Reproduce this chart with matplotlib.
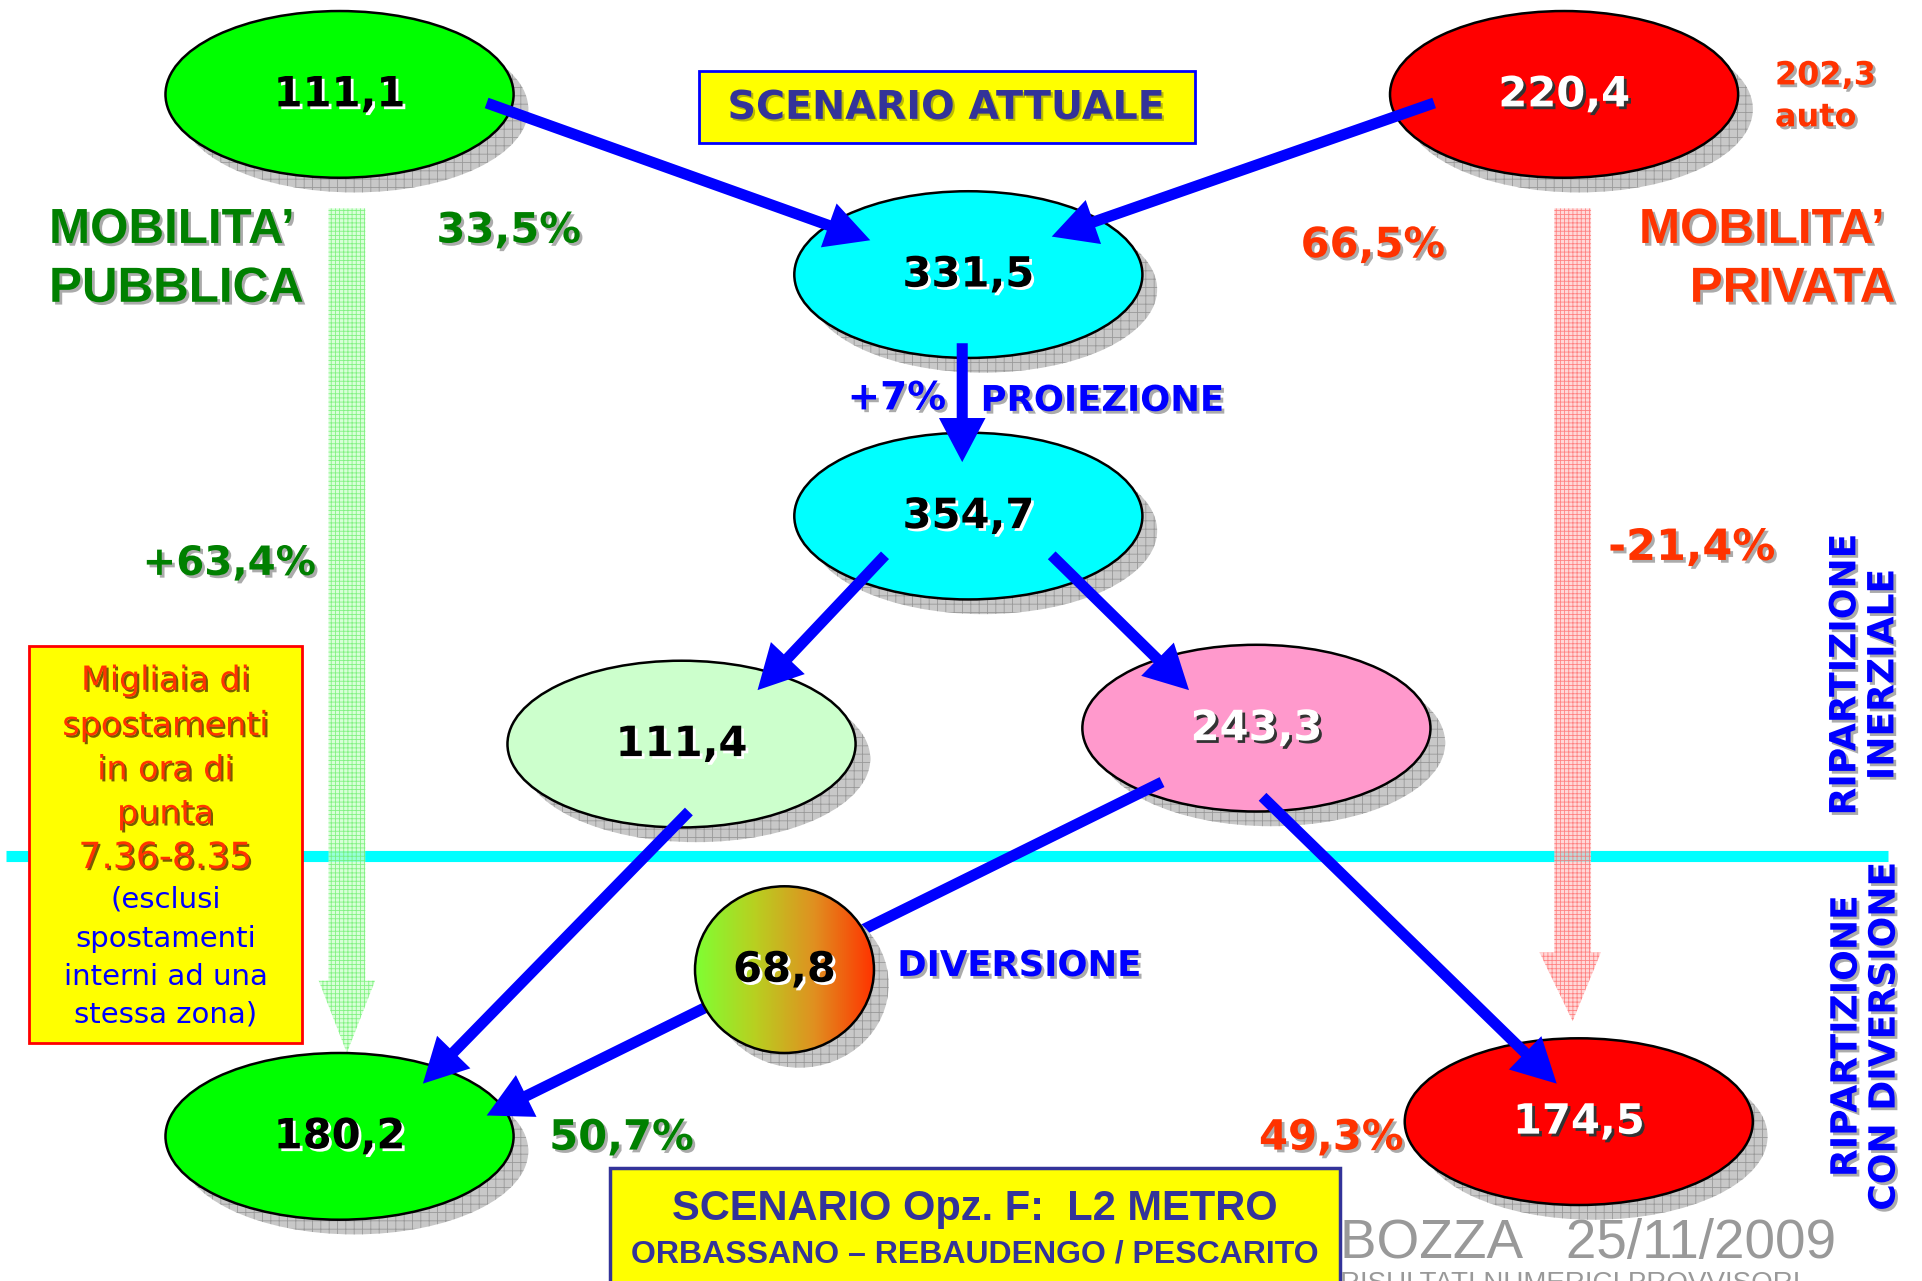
import numpy as np
import matplotlib
matplotlib.use("Agg")
import matplotlib.pyplot as plt
from matplotlib.patches import Ellipse, Rectangle, FancyArrow, Polygon
from matplotlib.colors import LinearSegmentedColormap
import matplotlib.patheffects as pe

# ---------------- data ----------------
node_values = ["111,1", "220,4", "331,5", "354,7", "111,4", "243,3", "68,8", "180,2", "174,5"]
share_current = ["33,5%", "66,5%"]
share_future = ["50,7%", "49,3%"]
variations = ["+63,4%", "-21,4%"]
growth = "+7%"
auto_value = "202,3\nauto"
titles = ["SCENARIO ATTUALE", "SCENARIO Opz. F:  L2 METRO", "ORBASSANO \u2013 REBAUDENGO / PESCARITO"]
legend_red = ["Migliaia di", "spostamenti", "in ora di", "punta", "7.36-8.35"]
legend_blue = ["(esclusi", "spostamenti", "interni ad una", "stessa zona)"]

BLUE = "#0000FF"
GREEN_T = "#008000"
RED_T = "#FF3300"
NAVY = "#333399"

fig = plt.figure(figsize=(19.22, 12.81), dpi=100)
ax = fig.add_axes([0, 0, 1, 1])
ax.set_xlim(0, 1568)
ax.set_ylim(1045, 0)
ax.axis("off")

num_font = dict(family="DejaVu Sans", weight="bold")

# node layout: (x, y, w, h, face, text colour)
nodes = [
    (277, 77, 284, 136, "#00FF00", "black"),
    (1276, 77, 284, 136, "#FF0000", "white"),
    (790, 224, 284, 136, "#00FFFF", "black"),
    (790, 421, 284, 136, "#00FFFF", "black"),
    (556, 607, 284, 136, "#CCFFCC", "black"),
    (1025, 594, 284, 136, "#FF99CC", "white"),
    (640, 791, 146, 136, None, "black"),
    (277, 927, 284, 136, "#00FF00", "black"),
    (1288, 915, 284, 136, "#FF0000", "white"),
]

# cyan separator
ax.plot([5, 1540], [698, 698], color="#00FFFF", lw=8, solid_capstyle="butt", zorder=1)

# hatched vertical arrows
def hatched_arrow(x0, x1, y0, ybase, hx0, hx1, ytip, face, hatchc):
    xm = (x0 + x1) / 2
    pts = [(x0, y0), (x1, y0), (x1, ybase), (hx1, ybase), (xm, ytip), (hx0, ybase), (x0, ybase)]
    p = Polygon(pts, closed=True, facecolor=face, edgecolor=hatchc, lw=0, hatch="++++", alpha=0.75, zorder=1.5)
    ax.add_patch(p)

plt.rcParams["hatch.linewidth"] = 0.6
hatched_arrow(268, 298, 170, 800, 260, 306, 859, "#CCFFCC", "#66EE66")
hatched_arrow(1268, 1298, 170, 777, 1256, 1306, 833, "#FFCCCC", "#FF6666")

# ellipses with shadows
for i, (x, y, w, h, face, tc) in enumerate(nodes):
    z = 2 if i != 6 else 4
    sh = Ellipse((x + 12, y + 12), w, h, facecolor="#C8C8C8", edgecolor="#999999", lw=0,
                 hatch="++", zorder=z - 0.2)
    ax.add_patch(sh)
    if face is None:
        el = Ellipse((x, y), w, h, facecolor="none", edgecolor="black", lw=1.8, zorder=z + 0.1)
        ax.add_patch(el)
        cmap = LinearSegmentedColormap.from_list("g", ["#7FFF33", "#B8D020", "#E09020", "#FF3300"])
        grad = np.linspace(0, 1, 256).reshape(1, -1)
        im = ax.imshow(grad, cmap=cmap, extent=(x - w / 2, x + w / 2, y + h / 2, y - h / 2),
                       aspect="auto", zorder=z, interpolation="bilinear")
        clip = Ellipse((x, y), w, h, transform=ax.transData, facecolor="none", edgecolor="none")
        ax.add_patch(clip)
        im.set_clip_path(clip)
    else:
        el = Ellipse((x, y), w, h, facecolor=face, edgecolor="black", lw=1.8, zorder=z)
        ax.add_patch(el)
    shadow_col = "white" if tc == "black" else "#333333"
    ax.text(x, y, node_values[i], ha="center", va="center", fontsize=30, color=tc, zorder=6,
            path_effects=[pe.withSimplePatchShadow(offset=(2, -2), shadow_rgbFace=shadow_col, alpha=1)],
            **num_font)

# blue arrows
arrows = [
    ((397, 84), (710, 196)),
    ((1170, 84), (858, 193)),
    ((785, 280), (785, 377)),
    ((722, 453), (618, 563)),
    ((858, 453), (970, 563)),
    ((562, 662), (345, 884)),
    ((948, 638), (397, 910)),
    ((1030, 650), (1270, 884)),
]
for (sx, sy), (tx, ty) in arrows:
    ax.add_patch(FancyArrow(sx, sy, tx - sx, ty - sy, width=9, head_width=38, head_length=36,
                            length_includes_head=True, color=BLUE, lw=0, zorder=3))

gshadow = [pe.withSimplePatchShadow(offset=(2, -2), shadow_rgbFace="#888888", alpha=0.7)]

# mobility labels
mob_font = dict(family=["Liberation Sans", "DejaVu Sans"], weight="bold", fontsize=35.5)
ax.text(40, 188, "MOBILITA\u2019", ha="left", va="center", color=GREEN_T, path_effects=gshadow, **mob_font)
ax.text(40, 236, "PUBBLICA", ha="left", va="center", color=GREEN_T, path_effects=gshadow, **mob_font)
ax.text(1537, 188, "MOBILITA\u2019", ha="right", va="center", color=RED_T, path_effects=gshadow, **mob_font)
ax.text(1546, 236, "PRIVATA", ha="right", va="center", color=RED_T, path_effects=gshadow, **mob_font)

# percentages
ax.text(415, 188, share_current[0], ha="center", va="center", fontsize=30, color=GREEN_T, path_effects=gshadow, **num_font)
ax.text(1120, 200, share_current[1], ha="center", va="center", fontsize=30, color=RED_T, path_effects=gshadow, **num_font)
ax.text(507, 928, share_future[0], ha="center", va="center", fontsize=30, color=GREEN_T, path_effects=gshadow, **num_font)
ax.text(1086, 928, share_future[1], ha="center", va="center", fontsize=30, color=RED_T, path_effects=gshadow, **num_font)
ax.text(187, 460, variations[0], ha="center", va="center", fontsize=29, color=GREEN_T, path_effects=gshadow, **num_font)
ax.text(1380, 447, variations[1], ha="center", va="center", fontsize=31, color=RED_T, path_effects=gshadow, **num_font)
ax.text(772, 325, growth, ha="right", va="center", fontsize=28, color=BLUE, path_effects=gshadow, **num_font)
ax.text(800, 327, "PROIEZIONE", ha="left", va="center", fontsize=25.5, color=BLUE, path_effects=gshadow, **num_font)
ax.text(732, 788, "DIVERSIONE", ha="left", va="center", fontsize=25.5, color=BLUE, path_effects=gshadow, **num_font)
ax.text(1448, 79, auto_value, ha="left", va="center", fontsize=23, color=RED_T, linespacing=1.45,
        path_effects=gshadow, **num_font)

# rotated labels
ax.text(1521, 550, "RIPARTIZIONE\nINERZIALE", rotation=90, ha="center", va="center", multialignment="center",
        fontsize=26, color=BLUE, linespacing=1.15, path_effects=gshadow, **num_font)
ax.text(1522, 845, "RIPARTIZIONE\nCON DIVERSIONE", rotation=90, ha="center", va="center", multialignment="center",
        fontsize=26, color=BLUE, linespacing=1.15, path_effects=gshadow, **num_font)

# scenario attuale box
ax.add_patch(Rectangle((570, 58), 405, 59, facecolor="#FFFF00", edgecolor=BLUE, lw=2, zorder=5))
ax.text(772, 88, titles[0], ha="center", va="center", fontsize=28.5, color=NAVY, zorder=6,
        path_effects=[pe.withSimplePatchShadow(offset=(1.5, -1.5), shadow_rgbFace="#AAAA00", alpha=0.8)], **num_font)

# legend box
ax.add_patch(Rectangle((24, 527), 222, 324, facecolor="#FFFF00", edgecolor="#FF0000", lw=2, zorder=5))
red_y = [555, 592, 628, 664, 700]
for t, yy in zip(legend_red, red_y):
    fs = 26 if t[0].isdigit() else 24
    ax.text(135, yy, t, ha="center", va="center", fontsize=fs, color=RED_T, family="DejaVu Sans", zorder=6,
            path_effects=[pe.withSimplePatchShadow(offset=(1.5, -1.5), shadow_rgbFace="#553300", alpha=0.8)])
blue_y = [734, 766, 797, 828]
for t, yy in zip(legend_blue, blue_y):
    ax.text(135, yy, t, ha="center", va="center", fontsize=21, color=BLUE, family="DejaVu Sans", zorder=6)

# bottom scenario box
ax.add_patch(Rectangle((498, 953), 595, 120, facecolor="#FFFF00", edgecolor=NAVY, lw=2.5, zorder=5))
box_font = dict(family=["Liberation Sans Narrow", "Liberation Sans"], weight="bold")
ax.text(795, 986, titles[1], ha="center", va="center", fontsize=30, color=NAVY, zorder=6, **box_font)
ax.text(795, 1023, titles[2], ha="center", va="center", fontsize=23, color=NAVY, zorder=6, **box_font)

# draft stamp
ax.text(1093, 1015, "BOZZA   25/11/2009", ha="left", va="center", fontsize=39.5, color="#999999",
        family=["Liberation Sans Narrow", "Liberation Sans"], zorder=6)
ax.text(1093, 1037, "RISULTATI NUMERICI PROVVISORI", ha="left", va="top", fontsize=20, color="#999999",
        family=["Liberation Sans Narrow", "Liberation Sans"], zorder=6)

fig.savefig("out.png", dpi=100)
